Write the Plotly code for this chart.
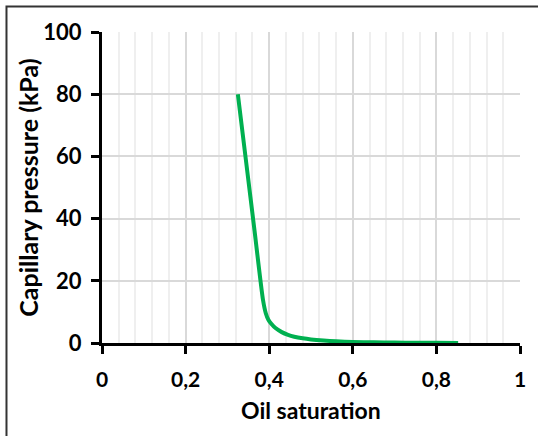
import plotly.graph_objects as go

# Data
oil_saturation = [0.325, 0.345, 0.365, 0.385, 0.392, 0.398, 0.405, 0.415, 0.43, 0.445,
                  0.46, 0.48, 0.50, 0.53, 0.56, 0.60, 0.65, 0.70, 0.75, 0.80, 0.852]
capillary_pressure = [80, 58, 36, 14, 9.5, 7.5, 6.2, 4.8, 3.5, 2.6,
                      2.0, 1.5, 1.15, 0.8, 0.55, 0.35, 0.22, 0.14, 0.09, 0.06, 0.04]

x_tickvals = [0, 0.2, 0.4, 0.6, 0.8, 1]
x_ticktext = ["0", "0,2", "0,4", "0,6", "0,8", "1"]
y_tickvals = [0, 20, 40, 60, 80, 100]
y_ticktext = ["0", "20", "40", "60", "80", "100"]

FONT = "Lato"

fig = go.Figure()
fig.add_trace(go.Scatter(
    x=oil_saturation, y=capillary_pressure, mode="lines",
    line=dict(color="#00B050", width=4, shape="spline", smoothing=0.6),
    showlegend=False, hoverinfo="skip",
))

fig.update_layout(
    width=538, height=436,
    margin=dict(l=102, r=18, t=32, b=93),
    paper_bgcolor="white", plot_bgcolor="white",
    font=dict(family=FONT, color="black", size=21, weight=700),
    xaxis=dict(
        range=[0, 1], tickvals=x_tickvals, ticktext=x_ticktext,
        showgrid=True, gridcolor="#d9d9d9", gridwidth=1.5,
        minor=dict(dtick=0.04, showgrid=True, gridcolor="#efefef", gridwidth=1.5, ticks=""),
        showline=True, linecolor="black", linewidth=3,
        ticks="outside", ticklen=8, tickwidth=3, tickcolor="black",
        zeroline=False, ticklabelstandoff=8, layer="below traces",
        tickfont=dict(family=FONT, size=21, weight=700),
    ),
    yaxis=dict(
        range=[0, 100], tickvals=y_tickvals, ticktext=y_ticktext,
        showgrid=True, gridcolor="#d9d9d9", gridwidth=1.5,
        showline=True, linecolor="black", linewidth=3,
        ticks="outside", ticklen=8, tickwidth=3, tickcolor="black",
        zeroline=False, ticklabelstandoff=5, layer="below traces",
        tickfont=dict(family=FONT, size=22, weight=700),
    ),
    annotations=[
        dict(text="Capillary pressure (kPa)", xref="paper", yref="paper",
             x=-0.179, y=0.5, textangle=-90, showarrow=False,
             xanchor="center", yanchor="middle",
             font=dict(family=FONT, size=25, weight=700)),
        dict(text="Oil saturation", xref="paper", yref="paper",
             x=0.5, y=-0.217, showarrow=False,
             xanchor="center", yanchor="middle",
             font=dict(family=FONT, size=23, weight=700)),
    ],
    shapes=[
        dict(type="rect", xref="paper", yref="paper",
             x0=-0.2285, x1=1.05, y0=-0.32, y1=1.082,
             line=dict(color="#333333", width=2), fillcolor="rgba(0,0,0,0)", layer="below"),
    ],
)

fig.write_html("out.html")
